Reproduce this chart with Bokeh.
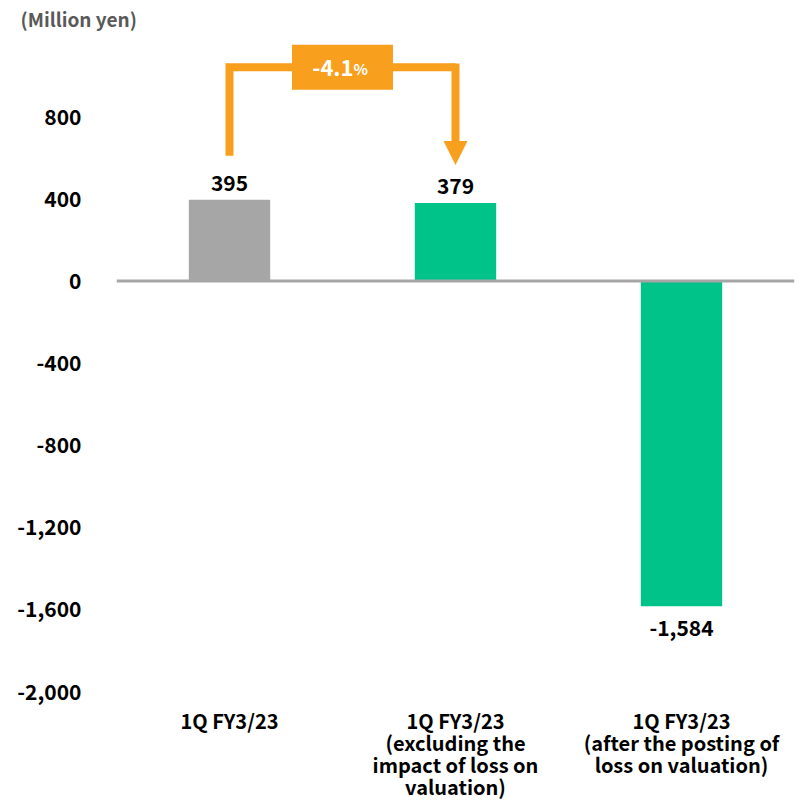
from bokeh.plotting import figure
from bokeh.models import (Range1d, FixedTicker, NumeralTickFormatter, Span,
                          Arrow, NormalHead, Title, ColumnDataSource)
from bokeh.core.properties import value
from bokeh.embed import file_html
from bokeh.resources import INLINE

# --- data -------------------------------------------------------------
categories = [["1Q FY3/23"],
              ["1Q FY3/23", "(excluding the", "impact of loss on", "valuation)"],
              ["1Q FY3/23", "(after the posting of", "loss on valuation)"]]
values = [395, 379, -1584]
value_labels = ["395", "379", "-1,584"]
bar_colors = ["#A6A6A6", "#00C389", "#00C389"]
y_ticks = [-2000, -1600, -1200, -800, -400, 0, 400, 800]
change_label = "-4.1"
change_unit = "%"
unit_label = "(Million yen)"

FONT = "Noto Sans CJK JP"
ORANGE = "#F99F1E"
Y_MIN, Y_MAX = -2000, 1200
# the plot area reaches down to the bottom edge so the category names
# (drawn as glyphs) sit inside it, below the lowest tick
Y_FLOOR = -2555

xs = [i + 0.5 for i in range(len(categories))]

p = figure(width=808, height=805, output_backend="svg", toolbar_location=None,
           x_range=Range1d(0, 3), y_range=Range1d(Y_FLOOR, Y_MAX),
           min_border_left=116, min_border_right=14,
           min_border_top=34, min_border_bottom=0)
p.outline_line_color = None
p.background_fill_color = "white"
p.border_fill_color = "white"
p.xgrid.visible = False
p.ygrid.visible = False
p.xaxis.visible = False

# y axis: labels only
p.yaxis.ticker = FixedTicker(ticks=y_ticks)
p.yaxis.formatter = NumeralTickFormatter(format="0,0")
p.yaxis.axis_line_color = None
p.yaxis.major_tick_line_color = None
p.yaxis.minor_tick_line_color = None
p.yaxis.major_label_standoff = 29
p.yaxis.major_label_text_font = FONT
p.yaxis.major_label_text_font_style = "bold"
p.yaxis.major_label_text_font_size = "21px"
p.yaxis.major_label_text_color = "#000000"

# unit caption above the plot area
p.add_layout(Title(text=unit_label, align="left", offset=-96, standoff=5,
                   text_font=FONT, text_font_style="bold",
                   text_font_size="19px", text_color="#595959"), "above")

# bars
src = ColumnDataSource(dict(x=xs, top=values, color=bar_colors, label=value_labels))
p.vbar(x="x", top="top", bottom=0, width=0.36, fill_color="color",
       line_color=None, source=src)

# zero line
p.add_layout(Span(location=0, dimension="width", line_color="#A6A6A6", line_width=3))

# value labels above positive bars, below negative ones
pos = ColumnDataSource(dict(x=[x for x, v in zip(xs, values) if v >= 0],
                            y=[v for v in values if v >= 0],
                            t=[l for l, v in zip(value_labels, values) if v >= 0]))
neg = ColumnDataSource(dict(x=[x for x, v in zip(xs, values) if v < 0],
                            y=[v for v in values if v < 0],
                            t=[l for l, v in zip(value_labels, values) if v < 0]))
for s, off in ((pos, -17), (neg, 22)):
    p.text(x="x", y="y", text="t", source=s, y_offset=off,
           text_align="center", text_baseline="middle",
           text_font=value(FONT), text_font_style="bold",
           text_font_size="21px", text_color="#000000")

# category names under the lowest tick, one glyph row per line
cx, cy, ct, coff = [], [], [], []
for x, lines in zip(xs, categories):
    for k, line in enumerate(lines):
        cx.append(x)
        cy.append(Y_MIN)
        ct.append(line)
        coff.append(29 + 22 * k)
cat_src = ColumnDataSource(dict(x=cx, y=cy, t=ct, off=coff))
p.text(x="x", y="y", text="t", y_offset="off", source=cat_src,
       text_align="center", text_baseline="middle",
       text_font=value(FONT), text_font_style="bold",
       text_font_size="20px", text_color="#000000")

# change bracket from the first bar to the second
bracket_y = 1040
p.line(x=[xs[0], xs[0], xs[1]], y=[values[0] + 214, bracket_y, bracket_y],
       line_color=ORANGE, line_width=8, line_join="miter")
p.add_layout(Arrow(x_start=xs[1], y_start=bracket_y + 19, x_end=xs[1],
                   y_end=values[1] + 186,
                   line_color=ORANGE, line_width=8,
                   end=NormalHead(size=24, fill_color=ORANGE, line_color=ORANGE,
                                  line_width=0)))
mid = (xs[0] + xs[1]) / 2
p.rect(x=[mid], y=[bracket_y], width=101, height=45, width_units="screen",
       height_units="screen", fill_color=ORANGE, line_color=None)
p.text(x=[mid], y=[bracket_y], text=[change_label], x_offset=11, y_offset=0,
       text_align="right", text_baseline="middle", text_font=value(FONT),
       text_font_style="bold", text_font_size="22px", text_color="white")
p.text(x=[mid], y=[bracket_y], text=[change_unit], x_offset=11, y_offset=1,
       text_align="left", text_baseline="middle", text_font=value(FONT),
       text_font_style="bold", text_font_size="15px", text_color="white")

open("out.html", "w").write(file_html(p, INLINE))
